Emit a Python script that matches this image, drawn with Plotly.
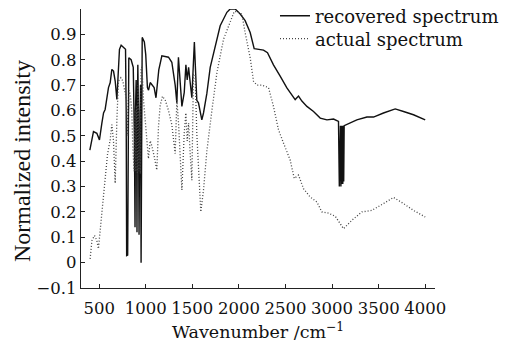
import plotly.graph_objects as go

# Recovered spectrum (solid)
rec_wn = [400, 439, 475, 503, 529, 547, 564, 583, 600, 618, 636, 654, 672, 690, 697, 718, 736, 761, 783,
          790, 795, 806, 812, 818, 843, 866, 878, 885, 890, 897, 903, 906, 910, 915, 922, 928, 933, 938, 944,
          950, 956, 962, 985, 1000, 1018, 1030, 1048, 1066, 1090, 1110, 1125, 1140, 1173, 1244, 1280, 1316,
          1334, 1351, 1370, 1388, 1413, 1431, 1445, 1460, 1477, 1495, 1512, 1522, 1532, 1548, 1566, 1584,
          1602, 1620, 1656, 1692, 1745, 1799, 1871, 1906, 1960, 2014, 2067, 2121, 2164, 2210, 2264, 2307,
          2371, 2443, 2515, 2604, 2640, 2676, 2730, 2801, 2873, 2945, 3016, 3069, 3078, 3090, 3095, 3100,
          3105, 3110, 3115, 3120, 3125, 3130, 3152, 3266, 3374, 3445, 3552, 3678, 3767, 3874, 4000]
rec_val = [0.444, 0.517, 0.51, 0.484, 0.55, 0.59, 0.604, 0.656, 0.69, 0.709, 0.762, 0.755, 0.716, 0.643, 0.69,
           0.841, 0.857, 0.847, 0.841, 0.60, 0.028, 0.03, 0.4, 0.808, 0.80, 0.77, 0.50, 0.14, 0.60, 0.72, 0.40,
           0.12, 0.60, 0.78, 0.60, 0.11, 0.40, 0.65, 0.70, 0.0, 0.5, 0.888, 0.87, 0.82, 0.69, 0.68, 0.71, 0.70,
           0.69, 0.65, 0.70, 0.76, 0.815, 0.81, 0.79, 0.70, 0.63, 0.81, 0.71, 0.616, 0.67, 0.78, 0.72, 0.77,
           0.71, 0.65, 0.79, 0.87, 0.78, 0.64, 0.63, 0.59, 0.563, 0.59, 0.667, 0.77, 0.85, 0.934, 0.987, 1.0,
           1.0, 0.98, 0.954, 0.907, 0.844, 0.84, 0.838, 0.828, 0.78, 0.735, 0.689, 0.643, 0.657, 0.637, 0.616,
           0.596, 0.57, 0.563, 0.566, 0.557, 0.30, 0.54, 0.30, 0.54, 0.31, 0.54, 0.31, 0.54, 0.32, 0.54, 0.544,
           0.563, 0.574, 0.574, 0.59, 0.606, 0.596, 0.583, 0.563]

# Actual spectrum (dotted)
act_wn = [403, 422, 450, 475, 492, 511, 540, 564, 589, 618, 636, 654, 672, 690, 707, 733, 754, 779, 795, 808,
          820, 835, 850, 862, 875, 885, 893, 900, 910, 918, 926, 935, 942, 950, 960, 976, 1005, 1029, 1048,
          1066, 1090, 1119, 1137, 1155, 1180, 1210, 1244, 1280, 1316, 1334, 1352, 1370, 1388, 1413, 1431,
          1445, 1460, 1477, 1495, 1512, 1530, 1548, 1577, 1591, 1620, 1656, 1710, 1764, 1835, 1906, 1950,
          1980, 2032, 2067, 2121, 2157, 2193, 2247, 2318, 2371, 2425, 2479, 2550, 2594, 2640, 2693, 2765,
          2837, 2891, 2962, 3034, 3123, 3213, 3320, 3427, 3552, 3660, 3767, 3874, 4000]
act_val = [0.015, 0.087, 0.107, 0.087, 0.055, 0.127, 0.246, 0.352, 0.425, 0.484, 0.544, 0.48, 0.313, 0.563,
           0.716, 0.729, 0.716, 0.669, 0.64, 0.50, 0.68, 0.66, 0.60, 0.45, 0.36, 0.60, 0.36, 0.62, 0.35, 0.70,
           0.36, 0.60, 0.35, 0.77, 0.77, 0.64, 0.51, 0.41, 0.48, 0.46, 0.42, 0.365, 0.537, 0.62, 0.656, 0.64,
           0.60, 0.544, 0.43, 0.64, 0.55, 0.405, 0.286, 0.51, 0.59, 0.48, 0.55, 0.43, 0.325, 0.742, 0.742,
           0.51, 0.273, 0.2, 0.286, 0.44, 0.60, 0.749, 0.881, 0.95, 0.99, 0.99, 0.98, 0.907, 0.808, 0.715,
           0.70, 0.70, 0.69, 0.616, 0.524, 0.471, 0.405, 0.332, 0.345, 0.292, 0.259, 0.239, 0.2, 0.195, 0.183,
           0.134, 0.167, 0.2, 0.206, 0.233, 0.257, 0.233, 0.206, 0.18]

x_ticks = [500, 1000, 1500, 2000, 2500, 3000, 3500, 4000]
y_ticks = [-0.1, 0, 0.1, 0.2, 0.3, 0.4, 0.5, 0.6, 0.7, 0.8, 0.9]
y_tick_text = ["\u22120.1", "0", "0.1", "0.2", "0.3", "0.4", "0.5", "0.6", "0.7", "0.8", "0.9"]
x_title = "Wavenumber /cm<sup>\u22121</sup>"
y_title = "Normalized intensity"

FONT = "DejaVu Serif"

fig = go.Figure()
fig.add_trace(go.Scatter(x=rec_wn, y=rec_val, mode="lines", name="recovered spectrum",
                         line=dict(color="#111111", width=1.4), legend="legend"))
fig.add_trace(go.Scatter(x=act_wn, y=act_val, mode="lines", name="actual spectrum",
                         line=dict(color="#444444", width=1.3, dash="1px,2px"), legend="legend2"))

legend_common = dict(xanchor="left", yanchor="top", bgcolor="rgba(0,0,0,0)",
                     font=dict(family=FONT, size=18, color="#111111"), itemwidth=30)

fig.update_layout(
    width=514, height=341,
    margin=dict(l=81, r=79, t=9, b=53, autoexpand=False),
    paper_bgcolor="white", plot_bgcolor="white",
    font=dict(family=FONT, size=16.5, color="#111111"),
    showlegend=True,
    legend=dict(x=0.548, y=1.041, **legend_common),
    legend2=dict(x=0.548, y=0.959, **legend_common),
    xaxis=dict(range=[305, 4105], tickvals=x_ticks, ticks="inside", ticklen=4, tickangle=0,
               showline=True, linecolor="#222222", linewidth=1.2, showgrid=False, zeroline=False,
               tickcolor="#222222", tickfont=dict(size=16.5), ticklabelstandoff=5, automargin=False),
    yaxis=dict(range=[-0.1, 1.0], tickvals=y_ticks, ticktext=y_tick_text, ticks="inside", ticklen=4,
               showline=True, linecolor="#222222", linewidth=1.2, showgrid=False, zeroline=False,
               tickcolor="#222222", tickfont=dict(size=16.5), automargin=False),
    annotations=[
        dict(text=x_title, xref="paper", yref="paper", x=0.5, y=-0.155, xanchor="center", yanchor="middle",
             showarrow=False, font=dict(family=FONT, size=17.5, color="#111111")),
        dict(text=y_title, xref="paper", yref="paper", x=-0.1667, y=0.455, xanchor="center", yanchor="middle",
             textangle=-90, showarrow=False, font=dict(family="Liberation Serif", size=24, color="#111111")),
    ],
)

fig.write_html("out.html")
